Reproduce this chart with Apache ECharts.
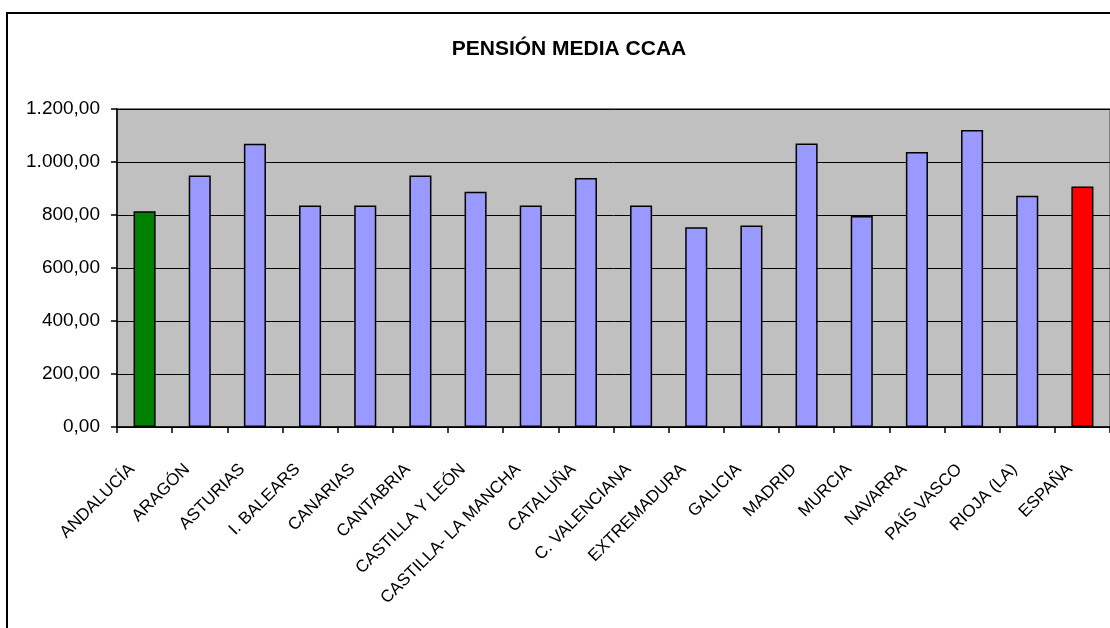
<!DOCTYPE html>
<html>
<head>
<meta charset="utf-8">
<script src="https://cdn.jsdelivr.net/npm/echarts@6/dist/echarts.min.js"></script>
<style>
html,body{margin:0;padding:0;background:#fff;}
#chart{width:1110px;height:628px;}
</style>
</head>
<body>
<div id="chart"></div>
<script>
var categories = ['ANDALUCÍA','ARAGÓN','ASTURIAS','I. BALEARS','CANARIAS','CANTABRIA','CASTILLA Y LEÓN','CASTILLA- LA MANCHA','CATALUÑA','C. VALENCIANA','EXTREMADURA','GALICIA','MADRID','MURCIA','NAVARRA','PAÍS VASCO','RIOJA (LA)','ESPAÑA'];
var pensionMedia = [814, 949, 1069, 836, 836, 949, 888, 836, 940, 836, 754, 760, 1070, 796, 1038, 1121, 873, 908];
var yTicks = [0, 200, 400, 600, 800, 1000, 1200];

var FONT = "'Liberation Sans', Arial, sans-serif";
var highlight = { 'ANDALUCÍA': '#008000', 'ESPAÑA': '#FF0000' };

function fmtES(v) {
  var parts = v.toFixed(2).split('.');
  var intPart = parts[0].replace(/\B(?=(\d{3})+(?!\d))/g, '.');
  return intPart + ',' + parts[1];
}

var chart = echarts.init(document.getElementById('chart'), null, { renderer: 'canvas' });
chart.setOption({
  animation: false,
  backgroundColor: '#ffffff',
  title: {
    text: 'PENSIÓN MEDIA CCAA',
    left: 564, top: 34, textAlign: 'center',
    textStyle: { fontFamily: FONT, fontWeight: 'bold', fontSize: 21, color: '#000' }
  },
  graphic: [{
    type: 'rect', silent: true, z: 100,
    shape: { x: 7, y: 13, width: 1300, height: 800 },
    style: { fill: 'none', stroke: '#000', lineWidth: 2 }
  }],
  grid: {
    left: 117, top: 109, width: 995, height: 318,
    show: true, backgroundColor: '#C0C0C0', borderColor: '#808080', borderWidth: 2
  },
  xAxis: {
    type: 'category',
    data: categories,
    axisLine: { lineStyle: { color: '#000', width: 1.5 } },
    axisTick: { show: true, length: 6, lineStyle: { color: '#000', width: 1.5 } },
    axisLabel: {
      interval: 0, rotate: 45, margin: 27,
      fontFamily: FONT, fontSize: 17, color: '#000',
      padding: [0, 18, 0, 0]
    }
  },
  yAxis: {
    type: 'value',
    min: yTicks[0], max: yTicks[yTicks.length - 1], interval: 200,
    axisLine: { show: true, lineStyle: { color: '#000', width: 1.5 } },
    axisTick: { show: true, length: 6, lineStyle: { color: '#000', width: 1.5 } },
    splitLine: { show: true, lineStyle: { color: '#000', width: 1 } },
    axisLabel: {
      margin: 17, fontFamily: FONT, fontSize: 19, color: '#000',
      formatter: function (v) { return fmtES(v); }
    }
  },
  series: [{
    type: 'bar',
    barWidth: '40%',
    data: pensionMedia.map(function (v, i) {
      return {
        value: v,
        itemStyle: { color: highlight[categories[i]] || '#9999FF', borderColor: '#000', borderWidth: 1.5 }
      };
    })
  }]
});
</script>
</body>
</html>
